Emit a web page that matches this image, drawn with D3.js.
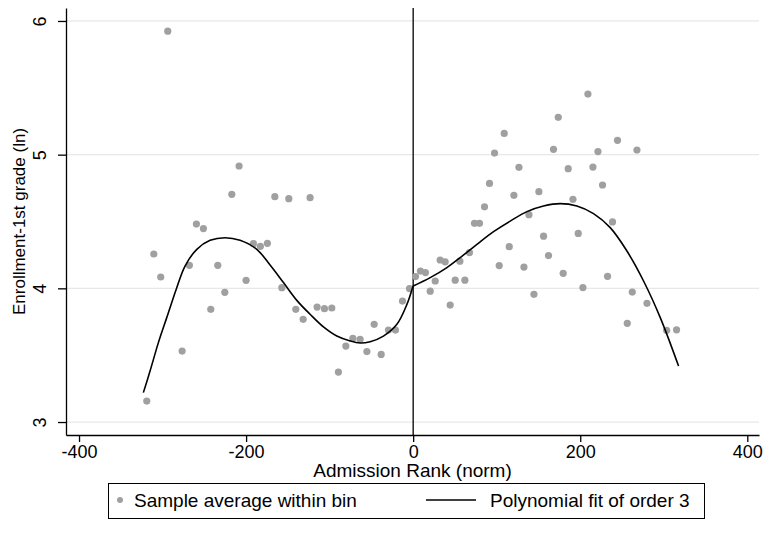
<!DOCTYPE html>
<html>
<head>
<meta charset="utf-8">
<script src="https://cdn.jsdelivr.net/npm/d3@7"></script>
<style>
  body { margin: 0; background: #fff; }
  text { font-family: "Liberation Sans", Arial, sans-serif; fill: #000; }
</style>
</head>
<body>
<div id="chart"></div>
<script>
// bin averages (left of cutoff, then right)
const binX = [
  -318.9, -310.5, -302.2, -293.8, -276.6, -267.9, -259.5, -251.1, -242.3, -233.9,
  -225.5, -217.1, -208.4, -200.0, -191.3, -182.9, -174.5, -165.6, -157.2, -148.9,
  -140.5, -131.7, -123.4, -115.0, -106.2, -97.4, -89.5, -80.6, -72.2, -63.5,
  -55.4, -46.7, -38.3, -29.6, -21.2, -12.8, -4.4,
  2.8, 8.7, 14.7, 20.4, 26.4, 32.3, 38.3, 44.3, 50.3, 55.9,
  61.9, 67.4, 73.4, 79.4, 85.4, 91.4, 97.4, 103.0, 109.0, 115.0,
  120.6, 126.6, 132.6, 138.6, 144.6, 150.5, 156.1, 162.0, 168.0, 173.7,
  179.6, 185.6, 191.3, 197.6, 203.2, 209.2, 215.2, 221.2, 226.7, 232.7,
  238.6, 244.6, 256.3, 262.3, 267.9, 279.9, 303.4, 315.3
];
const binY = [
  3.157, 4.257, 4.085, 5.924, 3.531, 4.172, 4.481, 4.447, 3.843, 4.172,
  3.970, 4.703, 4.915, 4.060, 4.334, 4.314, 4.337, 4.686, 4.005, 4.671,
  3.843, 3.768, 4.678, 3.860, 3.848, 3.853, 3.374, 3.568, 3.626, 3.619,
  3.527, 3.731, 3.506, 3.688, 3.688, 3.905, 3.998,
  4.088, 4.129, 4.118, 3.979, 4.055, 4.212, 4.198, 3.875, 4.061, 4.203,
  4.061, 4.267, 4.486, 4.486, 4.610, 4.785, 5.012, 4.170, 5.159, 4.312,
  4.696, 4.905, 4.159, 4.551, 3.955, 4.723, 4.390, 4.245, 5.040, 5.279,
  4.112, 4.895, 4.666, 4.411, 4.006, 5.453, 4.907, 5.023, 4.773, 4.090,
  4.497, 5.107, 3.738, 3.972, 5.034, 3.888, 3.686, 3.690
];

// cubic fit at intervals
const fitLeftX = [-323.0, -315.0, -305.0, -295.0, -283.0, -273.1, -259.0, -243.1, -225.1, -207.2,
  -187.2, -171.3, -155.3, -139.3, -123.4, -107.4, -91.4, -75.4, -63.5, -51.5, -35.6, -19.5, -7.5, 0];
const fitLeftY = [3.220, 3.381, 3.594, 3.781, 4.005, 4.167, 4.292, 4.359, 4.379, 4.359,
  4.292, 4.174, 4.043, 3.910, 3.806, 3.711, 3.643, 3.606, 3.591, 3.601, 3.643, 3.731, 3.880, 4.020];
const fitRightX = [0, 20.4, 40.4, 56.3, 76.3, 96.2, 116.2, 136.2, 156.0, 176.0,
  196.0, 215.9, 235.9, 255.9, 275.8, 295.8, 317.7];
const fitRightY = [4.017, 4.080, 4.155, 4.230, 4.329, 4.424, 4.503, 4.574, 4.616, 4.634,
  4.616, 4.559, 4.454, 4.279, 4.055, 3.781, 3.419];

const xTicks = [-400, -200, 0, 200, 400];
const yTicks = [3, 4, 5, 6];

const width = 766, height = 537;
const margin = {top: 8, right: 7, bottom: 102, left: 66};

const svg = d3.select("#chart")
  .append("svg")
  .attr("width", width)
  .attr("height", height);

const x = d3.scaleLinear()
  .domain([-415.6, 414])
  .range([margin.left, width - margin.right]);

const y = d3.scaleLinear()
  .domain([2.903, 6.097])
  .range([height - margin.bottom, margin.top]);

// gridlines
svg.append("g")
  .selectAll("line")
  .data(yTicks)
  .join("line")
  .attr("x1", margin.left)
  .attr("x2", width - margin.right)
  .attr("y1", d => y(d))
  .attr("y2", d => y(d))
  .attr("stroke", "#e8e8e8")
  .attr("stroke-width", 1.3);

// axes (plain hyphen for negatives, like the original)
const xAxis = svg.append("g")
  .attr("transform", `translate(0,${height - margin.bottom})`)
  .call(d3.axisBottom(x).tickValues(xTicks).tickFormat(d => String(d))
    .tickSize(7).tickSizeOuter(0).tickPadding(3));

const yAxis = svg.append("g")
  .attr("transform", `translate(${margin.left},0)`)
  .call(d3.axisLeft(y).tickValues(yTicks).tickFormat(d => String(d))
    .tickSize(8).tickSizeOuter(0));

[xAxis, yAxis].forEach(function (g) {
  g.select(".domain").attr("stroke", "#000").attr("stroke-width", 1.3);
  g.selectAll(".tick line").attr("stroke", "#000").attr("stroke-width", 1.3);
  g.selectAll("text").attr("font-size", 18).attr("fill", "#000")
    .style("font-family", '"Liberation Sans", Arial, sans-serif');
});

// rotated y tick labels
yAxis.selectAll(".tick text")
  .attr("x", null).attr("dy", null)
  .attr("text-anchor", "middle")
  .attr("transform", "translate(-20,0) rotate(-90)");

// cutoff line
svg.append("line")
  .attr("x1", x(0)).attr("x2", x(0))
  .attr("y1", margin.top).attr("y2", height - margin.bottom)
  .attr("stroke", "#000")
  .attr("stroke-width", 1.3);

// bin markers
svg.append("g")
  .selectAll("circle")
  .data(binX.map((d, i) => [d, binY[i]]))
  .join("circle")
  .attr("cx", d => x(d[0]))
  .attr("cy", d => y(d[1]))
  .attr("r", 3.6)
  .attr("fill", "#a0a0a0");

// polynomial fit, one piece each side
const line = d3.line()
  .x(d => x(d[0]))
  .y(d => y(d[1]))
  .curve(d3.curveCatmullRom);

[[fitLeftX, fitLeftY], [fitRightX, fitRightY]].forEach(function (s) {
  svg.append("path")
    .datum(s[0].map((d, i) => [d, s[1][i]]))
    .attr("d", line)
    .attr("fill", "none")
    .attr("stroke", "#000")
    .attr("stroke-width", 1.6);
});

// axis titles
svg.append("text")
  .attr("x", (margin.left + width - margin.right) / 2)
  .attr("y", 477)
  .attr("text-anchor", "middle")
  .attr("font-size", 19)
  .text("Admission Rank (norm)");

svg.append("text")
  .attr("transform", `translate(25,${(margin.top + height - margin.bottom) / 2}) rotate(-90)`)
  .attr("text-anchor", "middle")
  .attr("font-size", 17)
  .text("Enrollment-1st grade (ln)");

// legend
const legend = svg.append("g");
legend.append("rect")
  .attr("x", 108.5).attr("y", 483.5)
  .attr("width", 596).attr("height", 35)
  .attr("fill", "#fff")
  .attr("stroke", "#000")
  .attr("stroke-width", 1);
legend.append("circle")
  .attr("cx", 120).attr("cy", 500)
  .attr("r", 3)
  .attr("fill", "#a0a0a0");
legend.append("text")
  .attr("x", 134).attr("y", 507)
  .attr("font-size", 19)
  .text("Sample average within bin");
legend.append("line")
  .attr("x1", 426).attr("x2", 476)
  .attr("y1", 500).attr("y2", 500)
  .attr("stroke", "#000")
  .attr("stroke-width", 1.3);
legend.append("text")
  .attr("x", 490).attr("y", 507)
  .attr("font-size", 19)
  .text("Polynomial fit of order 3");
</script>
</body>
</html>
